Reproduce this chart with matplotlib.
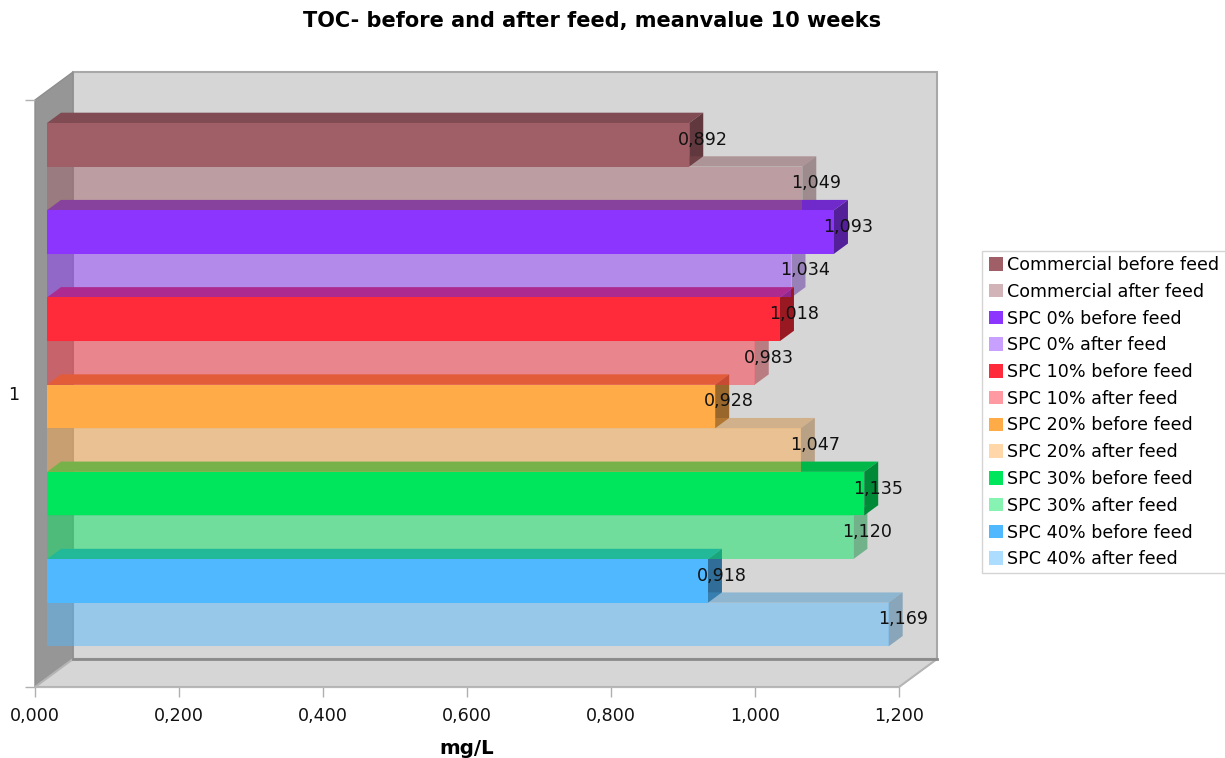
import matplotlib.pyplot as plt
from matplotlib.patches import Polygon, Patch, Rectangle
from matplotlib.colors import to_rgb

# TOC mean values (mg/L) over 10 weeks
groups = ['Commercial', 'SPC 0%', 'SPC 10%', 'SPC 20%', 'SPC 30%', 'SPC 40%']
before_feed = [0.892, 1.093, 1.018, 0.928, 1.135, 0.918]
after_feed = [1.049, 1.034, 0.983, 1.047, 1.120, 1.169]
group_colors = ['#a05e66', '#8c35ff', '#ff2a3a', '#ffab48', '#00e65c', '#50b8ff']
x_ticks = [0.0, 0.2, 0.4, 0.6, 0.8, 1.0, 1.2]
category_labels = ['1']

AFTER_ALPHA = 0.47
XMAX = 1.2
DX, DY = 0.0528, 0.642   # depth of the 3d box in data units
F0, F1 = 0.316, 0.684    # front / back of the bars inside that depth
PAD = 0.73
FS = 12.6


def shade(color, k):
    r, g, b = to_rgb(color)
    return (r * k, g * k, b * k)


def fmt(v):
    return f'{v:.3f}'.replace('.', ',')


fig = plt.figure(figsize=(12.25, 7.58), dpi=100)
ax = fig.add_axes([35 / 1225, 71 / 758, 864 / 1225, 587 / 758])
ax.patch.set_visible(False)

n = 2 * len(groups)
y0, y1 = -PAD, n + PAD
ax.set_xlim(0, XMAX)
ax.set_ylim(y0, y1)


def poly(pts, **kw):
    ax.add_patch(Polygon(pts, closed=True, clip_on=False, **kw))


# walls and floor
poly([(DX, y0 + DY), (XMAX + DX, y0 + DY), (XMAX + DX, y1 + DY), (DX, y1 + DY)],
     fc='#d6d6d6', ec='#a8a8a8', lw=1.5, zorder=1)
poly([(0, y0), (DX, y0 + DY), (DX, y1 + DY), (0, y1)],
     fc='#969696', ec='#8e8e8e', lw=1, zorder=1)
poly([(0, y0), (XMAX, y0), (XMAX + DX, y0 + DY), (DX, y0 + DY)],
     fc='#d6d6d6', ec='#b4b4b4', lw=1.5, zorder=1)
ax.plot([DX, XMAX + DX], [y0 + DY, y0 + DY], color='#8a8a8a', lw=2,
        clip_on=False, zorder=1.5)

# rows from top to bottom: before / after for each group
rows = []
for g, b, a, c in zip(groups, before_feed, after_feed, group_colors):
    rows.append((f'{g} before feed', b, c, 1.0))
    rows.append((f'{g} after feed', a, c, AFTER_ALPHA))

fx, fy = F0 * DX, F0 * DY
bx, by = F1 * DX, F1 * DY
for i, (label, v, c, alpha) in enumerate(rows):
    yb = n - 1 - i
    yt = yb + 1
    # top and side faces first, fronts on top of them
    poly([(fx, yt + fy), (v + fx, yt + fy), (v + bx, yt + by), (bx, yt + by)],
         fc=shade(c, 0.8), alpha=alpha, lw=0, zorder=2)
    poly([(v + fx, yb + fy), (v + bx, yb + by), (v + bx, yt + by), (v + fx, yt + fy)],
         fc=shade(c, 0.6), alpha=alpha, lw=0, zorder=2)
    poly([(fx, yb + fy), (v + fx, yb + fy), (v + fx, yt + fy), (fx, yt + fy)],
         fc=c, alpha=alpha, lw=0, zorder=3)
    ax.text(v + bx, yb + 0.5 + 0.5 * (F0 + F1) * DY, fmt(v), fontsize=FS,
            ha='center', va='center', color='#111111', zorder=5)

# axes, ticks
for s in ['top', 'right', 'left']:
    ax.spines[s].set_visible(False)
ax.spines['bottom'].set_color('#b8b8b8')
ax.spines['bottom'].set_zorder(1.6)

ax.set_xticks(x_ticks, labels=[fmt(t) for t in x_ticks])
ax.tick_params(axis='x', length=7.2, width=1, color='#b0b0b0', pad=7,
               labelsize=FS, labelcolor='#111111')
ax.set_yticks([y0, y1], labels=['', ''])
ax.tick_params(axis='y', which='major', length=7.2, width=1, color='#b0b0b0')
ax.set_yticks([n / 2], labels=category_labels, minor=True)
ax.tick_params(axis='y', which='minor', length=0, pad=11, labelsize=FS,
               labelcolor='#111111')

fig.text(592 / 1225, 1 - 20.5 / 758, 'TOC- before and after feed, meanvalue 10 weeks',
         fontsize=15, fontweight='bold', ha='center', va='center')
fig.text(467 / 1225, 1 - 748 / 758, 'mg/L', fontsize=14.2, fontweight='bold',
         ha='center', va='center')

# legend
fig.add_artist(Rectangle((982 / 1225, 1 - 573 / 758), 0.3, (573 - 251) / 758,
                         transform=fig.transFigure, fc='white', ec='#d4d4d4',
                         lw=1, zorder=0))
handles = [Patch(fc=c, alpha=alpha, lw=0) for _, _, c, alpha in rows]
fig.legend(handles, [r[0] for r in rows], loc='upper left',
           bbox_to_anchor=(989 / 1225, 1 - 256 / 758), frameon=False, fontsize=FS,
           handlelength=0.8, handleheight=0.8, handletextpad=0.25,
           labelspacing=0.5, borderpad=0, borderaxespad=0)

fig.savefig('out.png', dpi=100)
